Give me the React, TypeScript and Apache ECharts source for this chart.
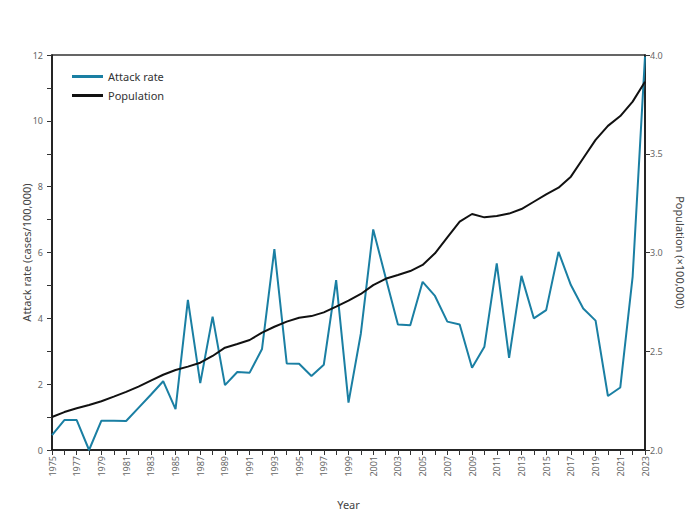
import React, { useEffect, useRef } from "react";
import * as echarts from "echarts";

const years: string[] = [];
for (let y = 1975; y <= 2023; y++) years.push(String(y));

const attackRate = [
  0.45, 0.91, 0.91, 0.0, 0.89, 0.89, 0.88, 1.28, 1.68, 2.09,
  1.24, 4.56, 2.03, 4.05, 1.97, 2.37, 2.35, 3.07, 6.1, 2.63,
  2.62, 2.25, 2.59, 5.16, 1.44, 3.54, 6.7, 5.25, 3.81, 3.79,
  5.11, 4.68, 3.9, 3.81, 2.5, 3.14, 5.67, 2.8, 5.29, 4.0,
  4.25, 6.02, 5.01, 4.3, 3.93, 1.64, 1.9, 5.27, 11.95,
];

const population = [
  2.167, 2.192, 2.211, 2.228, 2.247, 2.27, 2.294, 2.321, 2.351, 2.381,
  2.405, 2.422, 2.442, 2.476, 2.518, 2.537, 2.557, 2.594, 2.624, 2.65,
  2.67, 2.678, 2.697, 2.726, 2.756, 2.79, 2.835, 2.867, 2.886, 2.906,
  2.937, 2.996, 3.077, 3.156, 3.195, 3.178, 3.185, 3.197, 3.22, 3.257,
  3.294, 3.328, 3.384, 3.477, 3.57, 3.641, 3.691, 3.764, 3.865,
];

const FONT = "Noto Sans";

export default function App() {
  const ref = useRef<HTMLDivElement>(null);
  useEffect(() => {
    document.body.style.margin = "0";
    if (!ref.current) return;
    const chart = echarts.init(ref.current, undefined, { renderer: "svg" });
    const tickLabel = { color: "#666", fontSize: 9, fontFamily: FONT };
    chart.setOption({
      animation: false,
      textStyle: { fontFamily: FONT },
      grid: {
        left: 52,
        right: 55,
        top: 55,
        bottom: 72,
        show: true,
        borderColor: "#333",
        borderWidth: 1.5,
        containLabel: false,
        outerBoundsMode: "none",
      },
      legend: {
        orient: "vertical",
        left: 67,
        top: 66,
        itemWidth: 31,
        itemHeight: 3,
        itemGap: 8,
        icon: "rect",
        textStyle: { color: "#333", fontSize: 11, fontFamily: FONT },
        data: ["Attack rate", "Population"],
      },
      xAxis: {
        type: "category",
        data: years,
        boundaryGap: false,
        name: "Year",
        nameLocation: "middle",
        nameGap: 49,
        nameMoveOverlap: false,
        nameTextStyle: { color: "#444", fontSize: 11, fontFamily: FONT },
        axisLine: { lineStyle: { color: "#111", width: 1.5 } },
        axisTick: { interval: 0, length: 5, lineStyle: { color: "#333" } },
        axisLabel: { ...tickLabel, interval: 1, rotate: 90, margin: 6 },
      },
      yAxis: [
        {
          type: "value",
          min: 0,
          max: 12,
          interval: 2,
          name: "Attack rate (cases/100,000)",
          nameLocation: "middle",
          nameGap: 20,
          nameMoveOverlap: false,
          nameTextStyle: { color: "#444", fontSize: 11, fontFamily: FONT },
          axisLine: { show: true, lineStyle: { color: "#111", width: 1.5 } },
          axisTick: { show: true, length: 5, lineStyle: { color: "#333" } },
          minorTick: { show: true, splitNumber: 2, length: 5, lineStyle: { color: "#333" } },
          splitLine: { show: false },
          axisLabel: { ...tickLabel, margin: 9 },
        },
        {
          type: "value",
          min: 2,
          max: 4,
          interval: 0.5,
          position: "right",
          name: "Population (×100,000)",
          nameLocation: "middle",
          nameRotate: -90,
          nameGap: 30,
          nameMoveOverlap: false,
          nameTextStyle: { color: "#444", fontSize: 11, fontFamily: FONT },
          axisLine: { show: true, lineStyle: { color: "#111", width: 1.5 } },
          axisTick: { show: true, length: 5, lineStyle: { color: "#333" } },
          splitLine: { show: false },
          axisLabel: { ...tickLabel, margin: 5, formatter: (v: number) => v.toFixed(1) },
        },
      ],
      series: [
        {
          name: "Attack rate",
          type: "line",
          data: attackRate,
          yAxisIndex: 0,
          symbol: "none",
          lineStyle: { color: "#1a7fa3", width: 2 },
          itemStyle: { color: "#1a7fa3" },
        },
        {
          name: "Population",
          type: "line",
          data: population,
          yAxisIndex: 1,
          symbol: "none",
          lineStyle: { color: "#111", width: 2 },
          itemStyle: { color: "#111" },
        },
      ],
    });
    return () => chart.dispose();
  }, []);
  return <div ref={ref} style={{ width: 700, height: 522 }} />;
}
